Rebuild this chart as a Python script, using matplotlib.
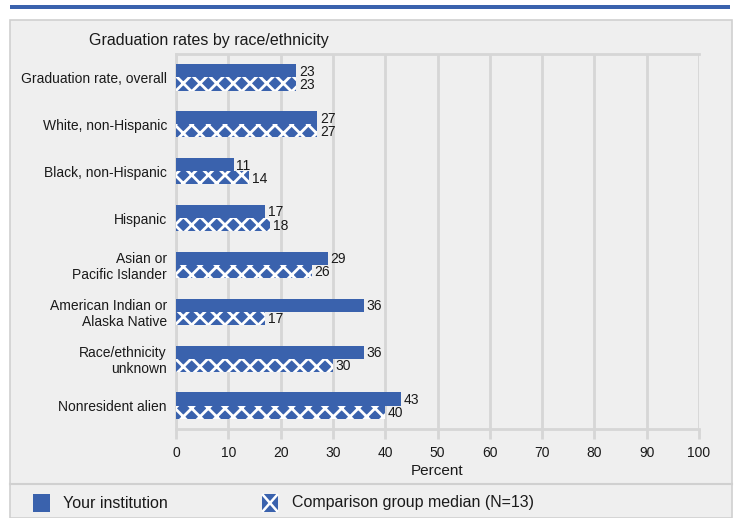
import matplotlib
matplotlib.use("Agg")
import matplotlib.pyplot as plt
from matplotlib.patches import Rectangle
from matplotlib.lines import Line2D
import numpy as np

plt.rcParams['font.family'] = ['Liberation Sans', 'DejaVu Sans']
plt.rcParams['hatch.linewidth'] = 2.0
plt.rcParams['hatch.color'] = 'white'

categories = ["Graduation rate, overall", "White, non-Hispanic", "Black, non-Hispanic",
              "Hispanic", "Asian or\nPacific Islander", "American Indian or\nAlaska Native",
              "Race/ethnicity\nunknown", "Nonresident alien"]
your_institution = [23, 27, 11, 17, 29, 36, 36, 43]
comparison_median = [23, 27, 14, 18, 26, 17, 30, 40]
xticks = [0, 10, 20, 30, 40, 50, 60, 70, 80, 90, 100]

BLUE = '#3a62ad'
BG = '#efefef'
GRID = '#d6d6d6'
TXT = '#1a1a1a'

W, H = 737, 518
fig = plt.figure(figsize=(W / 100, H / 100), dpi=100)
fig.patch.set_facecolor('white')

def fx(px):
    return px / W

def fy(py):
    return 1 - py / H

# top blue rule
fig.add_artist(Rectangle((fx(10), fy(9)), fx(720), 4 / H, transform=fig.transFigure,
                         facecolor=BLUE, edgecolor='none', zorder=-10))
# panel
fig.add_artist(Rectangle((fx(10), fy(518)), fx(722), (518 - 20) / H, transform=fig.transFigure,
                         facecolor=BG, edgecolor='#d0d0d0', linewidth=1.2, zorder=-10))
# separator above legend
fig.add_artist(Line2D([fx(10), fx(732)], [fy(484), fy(484)], transform=fig.transFigure,
                      color='#d0d0d0', linewidth=1.5, zorder=-9))

ax = fig.add_axes([fx(176), fy(429), fx(699 - 176), (429 - 54) / H])
ax.set_facecolor(BG)

n = len(categories)
y = np.arange(n)
h = 0.28
ax.barh(y - h / 2, your_institution, height=h, color=BLUE, edgecolor='none', zorder=3)
ax.barh(y + h / 2, comparison_median, height=h, color=BLUE, edgecolor='white',
        linewidth=0, hatch='xx', zorder=3)

for i in range(n):
    ax.text(your_institution[i] + 0.5, y[i] - h / 2 + 0.02, str(your_institution[i]),
            va='center', ha='left', fontsize=10, color=TXT, zorder=4)
    ax.text(comparison_median[i] + 0.5, y[i] + h / 2 + 0.02, str(comparison_median[i]),
            va='center', ha='left', fontsize=10, color=TXT, zorder=4)

ax.set_xlim(0, 100)
ax.set_ylim(n - 0.5, -0.5)
ax.set_xticks(xticks)
ax.set_xticklabels([str(t) for t in xticks], fontsize=10, color=TXT)
ax.set_yticks(y)
ax.set_yticklabels(categories, fontsize=10, color=TXT, linespacing=1.15)
ax.tick_params(axis='y', length=0, pad=6.5)
ax.tick_params(axis='x', length=7, width=2, color=GRID, pad=5, direction='out')
ax.xaxis.grid(True, color=GRID, linewidth=2, zorder=0)
for s in ['top', 'bottom', 'left', 'right']:
    ax.spines[s].set_color(GRID)
    ax.spines[s].set_linewidth(2)
ax.spines['right'].set_visible(False)
ax.set_xlabel('Percent', fontsize=11, color=TXT, labelpad=3)

fig.text(fx(89), fy(40), 'Graduation rates by race/ethnicity', fontsize=11.5,
         va='center', ha='left', color=TXT)

# legend
fig.add_artist(Rectangle((fx(33), fy(512)), fx(17), 18 / H, transform=fig.transFigure,
                         facecolor=BLUE, edgecolor='none'))
fig.text(fx(63), fy(503), 'Your institution', fontsize=11.5, va='center', ha='left', color=TXT)
fig.add_artist(Rectangle((fx(262), fy(512)), fx(16), 18 / H, transform=fig.transFigure,
                         facecolor=BLUE, edgecolor='none'))
fig.add_artist(Line2D([fx(263), fx(277)], [fy(495), fy(511)], transform=fig.transFigure,
                      color='white', linewidth=1.8))
fig.add_artist(Line2D([fx(263), fx(277)], [fy(511), fy(495)], transform=fig.transFigure,
                      color='white', linewidth=1.8))
fig.text(fx(292), fy(503), 'Comparison group median (N=13)', fontsize=11.5, va='center',
         ha='left', color=TXT)

fig.savefig('out.png', dpi=100, facecolor=fig.get_facecolor())
